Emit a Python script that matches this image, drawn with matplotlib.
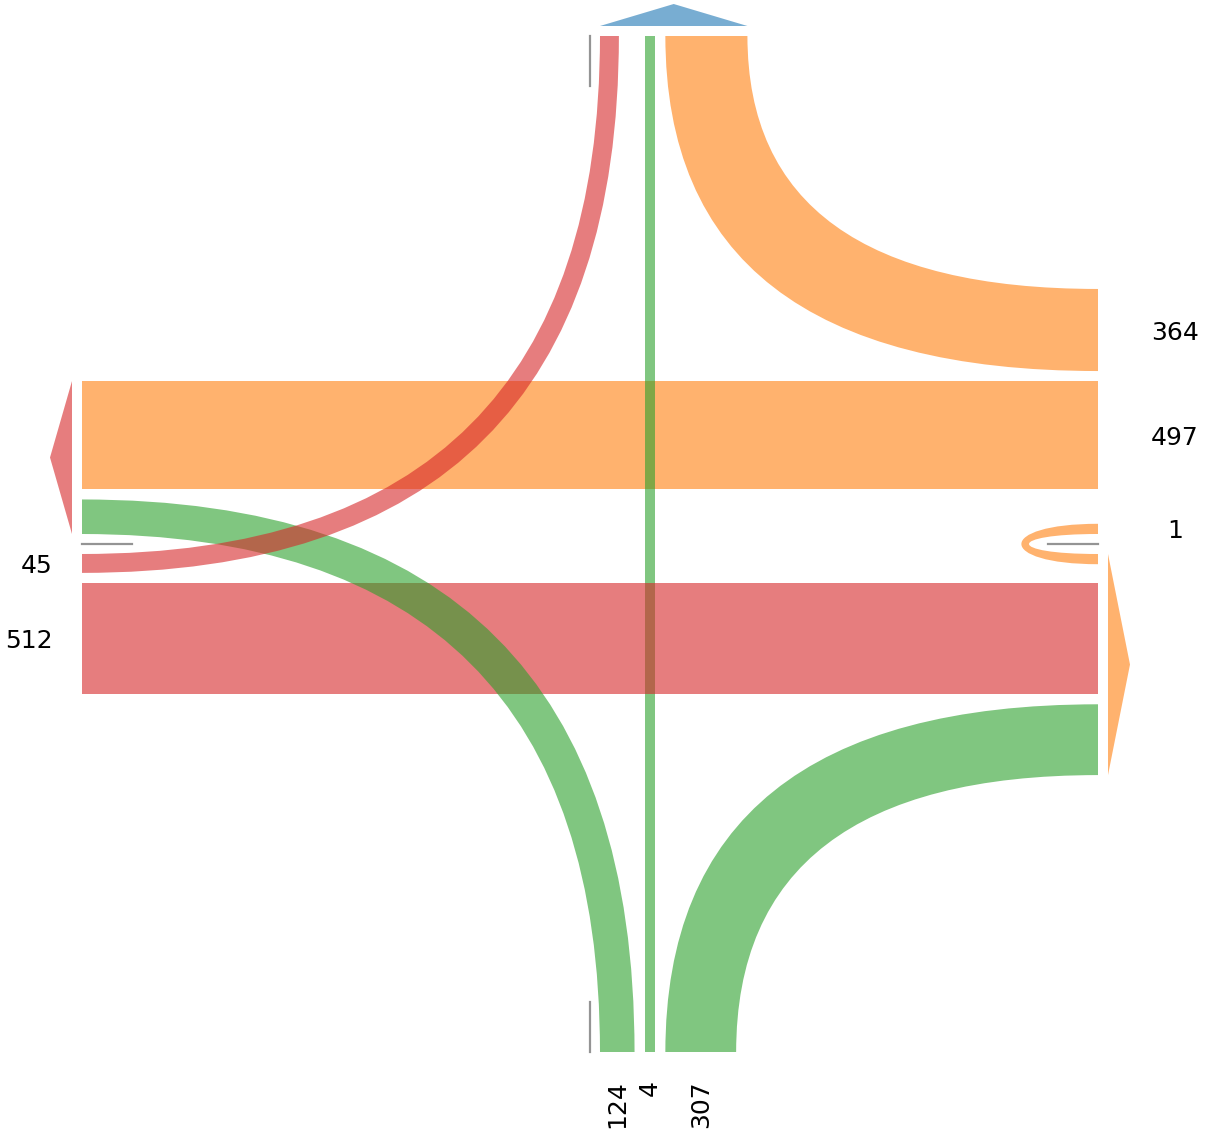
import numpy as np
import matplotlib
matplotlib.use('Agg')
import matplotlib.pyplot as plt
from matplotlib.path import Path
from matplotlib.patches import PathPatch, Polygon

# intersection legs, clockwise from north
legs = ['N', 'E', 'S', 'W']
leg_colors = ['tab:blue', 'tab:orange', 'tab:green', 'tab:red']

# counts entering from each leg
u_turn = [0, 1, 0, 0]
left = [0, 0, 124, 45]
through = [0, 497, 4, 512]
right = [0, 364, 307, 0]

# layout (units = pixels)
R = 508        # half size of the crossing
GAP = 10
ALPHA = 0.6

def width(v):
    return 10 + 0.198 * v

# unit vectors pointing out of the centre, and side of the inbound lanes
out_vec = np.array([[0, 1], [1, 0], [0, -1], [-1, 0]], dtype=float)
in_side = np.array([[-1, 0], [0, 1], [1, 0], [0, -1]], dtype=float)
out_side = -in_side

def stack(vals, pos):
    res = []
    for v in vals:
        if v > 0:
            res.append((pos, pos + width(v)))
            pos += width(v) + GAP
        else:
            res.append(None)
    return res, pos

# lane offsets: inbound per leg and movement, outbound per leg and movement of origin
lanes_in = [dict() for _ in legs]
lanes_out = [dict() for _ in legs]
for i in range(4):
    k = (i + 2) % 4
    (li_u, li_l), p_in = stack([u_turn[i], left[i]], GAP)
    (lo_u, lo_l), p_out = stack([u_turn[k], left[(k - 1) % 4]], GAP)
    lanes_in[i]['U'], lanes_in[i]['L'] = li_u, li_l
    lanes_out[k]['U'], lanes_out[k]['L'] = lo_u, lo_l
    start = max(p_in, p_out)
    (lt,), end = stack([through[i]], start)
    lanes_in[i]['T'] = lt
    lanes_out[k]['T'] = lt
    (lr,), _ = stack([right[i]], end)
    (lor,), _ = stack([right[(k + 1) % 4]], end)
    lanes_in[i]['R'] = lr
    lanes_out[k]['R'] = lor

fig = plt.figure(figsize=(12.05, 11.33), dpi=100)
ax = fig.add_axes([0, 0, 1, 1])
ax.set_xlim(-590, 615)
ax.set_ylim(-589, 544)
ax.axis('off')

def add_path(verts, codes, color):
    ax.add_patch(PathPatch(Path(verts, codes), facecolor=color, edgecolor='none',
                           alpha=ALPHA, lw=0))

# through movements
for i in range(4):
    ln = lanes_in[i]['T']
    if ln is None:
        continue
    k = (i + 2) % 4
    s = in_side[i]
    a, b = ln
    pts = [R * out_vec[i] + a * s, R * out_vec[i] + b * s,
           R * out_vec[k] + b * s, R * out_vec[k] + a * s]
    ax.add_patch(Polygon(pts, closed=True, facecolor=leg_colors[i], edgecolor='none',
                         alpha=ALPHA, lw=0))

# turning movements
for i in range(4):
    for mov, j in (('L', (i + 1) % 4), ('R', (i - 1) % 4)):
        ln = lanes_in[i][mov]
        if ln is None:
            continue
        lo = lanes_out[j][mov]
        si, sj = in_side[i], out_side[j]
        (o1, o2), (p1, p2) = ln, lo
        verts = [R * out_vec[i] + o1 * si, o1 * si + p1 * sj, R * out_vec[j] + p1 * sj,
                 R * out_vec[j] + p2 * sj, o2 * si + p2 * sj, R * out_vec[i] + o2 * si,
                 R * out_vec[i] + o1 * si]
        codes = [Path.MOVETO, Path.CURVE3, Path.CURVE3, Path.LINETO,
                 Path.CURVE3, Path.CURVE3, Path.CLOSEPOLY]
        add_path(verts, codes, leg_colors[i])

# u-turns
for i in range(4):
    ln = lanes_in[i]['U']
    if ln is None:
        continue
    lo = lanes_out[i]['U']
    s = in_side[i]
    u = out_vec[i]
    (o1, o2), (p1, p2) = ln, lo
    L2 = 82 + 0.5 * (o2 + p2)
    L1 = 82 + 0.5 * (o1 + p1)
    verts = [R * u + o2 * s, (R - L2) * u + o2 * s, (R - L2) * u - p2 * s, R * u - p2 * s,
             R * u - p1 * s, (R - L1) * u - p1 * s, (R - L1) * u + o1 * s, R * u + o1 * s,
             R * u + o2 * s]
    codes = [Path.MOVETO, Path.CURVE4, Path.CURVE4, Path.CURVE4,
             Path.LINETO, Path.CURVE4, Path.CURVE4, Path.CURVE4, Path.CLOSEPOLY]
    add_path(verts, codes, leg_colors[i])

# exit arrows
for j in range(4):
    used = [v for v in lanes_out[j].values() if v is not None]
    if not used:
        continue
    lo = min(v[0] for v in used)
    hi = max(v[1] for v in used)
    s = out_side[j]
    u = out_vec[j]
    tri = [(R + 10) * u + lo * s, (R + 10) * u + hi * s, (R + 32) * u + 0.5 * (lo + hi) * s]
    ax.add_patch(Polygon(tri, closed=True, facecolor=leg_colors[j], edgecolor='none',
                         alpha=ALPHA, lw=0))

# centre line ticks
for j in range(4):
    a = (R - 50) * out_vec[j]
    b = R * out_vec[j]
    ax.plot([a[0], b[0]], [a[1], b[1]], color='0.58', lw=1.6, zorder=5)

# counts at the entries
label_style = {
    0: dict(dist=R + 28, rotation=90, ha='center', va='bottom'),
    1: dict(dist=R + 77, rotation=0, ha='center', va='center_baseline'),
    2: dict(dist=R + 28, rotation=90, ha='center', va='top'),
    3: dict(dist=R + 29, rotation=0, ha='right', va='center_baseline'),
}
counts = {'U': u_turn, 'L': left, 'T': through, 'R': right}
for i in range(4):
    st = label_style[i]
    for mov in ('U', 'L', 'T', 'R'):
        ln = lanes_in[i][mov]
        if ln is None:
            continue
        p = st['dist'] * out_vec[i] + 0.5 * (ln[0] + ln[1]) * in_side[i]
        ax.text(p[0], p[1], str(counts[mov][i]), fontsize=18, rotation=st['rotation'],
                ha=st['ha'], va=st['va'])

fig.savefig('out.png', dpi=100)
